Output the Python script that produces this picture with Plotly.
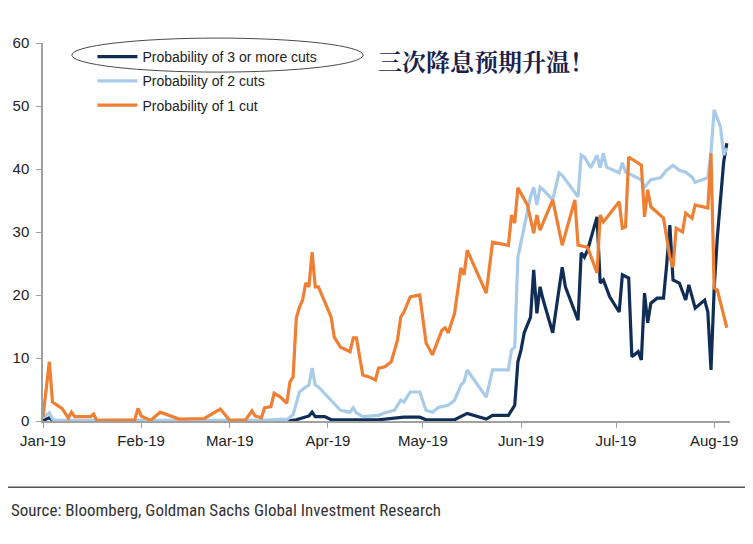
import plotly.graph_objects as go

# ---------------- data ----------------
three_dates = ["2019-01-01", "2019-01-03", "2019-01-04", "2019-03-19", "2019-03-22", "2019-03-25",
               "2019-03-26", "2019-03-27", "2019-03-28", "2019-03-31", "2019-04-02", "2019-04-17",
               "2019-04-25", "2019-04-30", "2019-05-02", "2019-05-11", "2019-05-15", "2019-05-21",
               "2019-05-23", "2019-05-28", "2019-05-29", "2019-05-30", "2019-05-31", "2019-06-01",
               "2019-06-02", "2019-06-04", "2019-06-05", "2019-06-06", "2019-06-07", "2019-06-08",
               "2019-06-11", "2019-06-14", "2019-06-15", "2019-06-19", "2019-06-20", "2019-06-21",
               "2019-06-22", "2019-06-25", "2019-06-26", "2019-06-27", "2019-06-29", "2019-07-02",
               "2019-07-03", "2019-07-05", "2019-07-06", "2019-07-08", "2019-07-09", "2019-07-10",
               "2019-07-11", "2019-07-12", "2019-07-14", "2019-07-16", "2019-07-17", "2019-07-18",
               "2019-07-19", "2019-07-21", "2019-07-23", "2019-07-24", "2019-07-26", "2019-07-29",
               "2019-07-30", "2019-07-31", "2019-08-01", "2019-08-02", "2019-08-04", "2019-08-05"]
three_vals = [0.1, 0.5, 0.1, 0.0, 0.2, 0.7,
              0.8, 1.4, 0.7, 0.7, 0.2, 0.2,
              0.6, 0.6, 0.2, 0.2, 1.2, 0.3,
              0.9, 0.9, 1.7, 2.5, 9.4, 11.3,
              14.0, 16.5, 24.0, 17.1, 21.3, 19.2,
              14.0, 24.4, 21.3, 16.0, 26.7, 26.0,
              27.1, 32.4, 21.9, 22.4, 19.7, 17.3,
              23.2, 22.7, 10.2, 11.0, 9.7, 20.3,
              15.6, 18.7, 19.5, 19.5, 24.8, 31.1,
              22.4, 21.9, 19.2, 21.6, 17.9, 19.2,
              17.3, 8.1, 21.0, 29.2, 41.1, 44.1]

two_dates = ["2019-01-01", "2019-01-03", "2019-01-04", "2019-01-05", "2019-03-11", "2019-03-18",
             "2019-03-19", "2019-03-21", "2019-03-22", "2019-03-23", "2019-03-25", "2019-03-26",
             "2019-03-27", "2019-03-28", "2019-03-29", "2019-04-01", "2019-04-03", "2019-04-05",
             "2019-04-08", "2019-04-09", "2019-04-10", "2019-04-12", "2019-04-17", "2019-04-19",
             "2019-04-22", "2019-04-24", "2019-04-25", "2019-04-27", "2019-04-30", "2019-05-02",
             "2019-05-04", "2019-05-06", "2019-05-09", "2019-05-11", "2019-05-13", "2019-05-14",
             "2019-05-15", "2019-05-21", "2019-05-23", "2019-05-28", "2019-05-29", "2019-05-30",
             "2019-05-31", "2019-06-01", "2019-06-02", "2019-06-04", "2019-06-05", "2019-06-06",
             "2019-06-07", "2019-06-08", "2019-06-11", "2019-06-13", "2019-06-14", "2019-06-19",
             "2019-06-20", "2019-06-21", "2019-06-23", "2019-06-25", "2019-06-26", "2019-06-27",
             "2019-06-28", "2019-07-02", "2019-07-03", "2019-07-04", "2019-07-09", "2019-07-10",
             "2019-07-12", "2019-07-15", "2019-07-17", "2019-07-19", "2019-07-21", "2019-07-23",
             "2019-07-25", "2019-07-26", "2019-07-30", "2019-07-31", "2019-08-01", "2019-08-03",
             "2019-08-04", "2019-08-05"]
two_vals = [0.5, 1.3, 0.3, 0.1, 0.1, 0.3,
            0.2, 1.0, 2.8, 4.6, 5.4, 5.7,
            8.4, 5.7, 5.4, 3.8, 2.8, 1.7,
            1.4, 2.1, 1.3, 0.7, 0.9, 1.3,
            1.7, 3.3, 3.0, 4.6, 4.6, 1.7,
            1.4, 2.2, 2.5, 3.3, 5.7, 6.2,
            8.1, 3.8, 8.1, 8.1, 11.3, 11.7,
            26.0, 28.4, 30.3, 35.6, 37.1, 34.3,
            37.1, 36.7, 35.1, 39.4, 39.0, 35.6,
            42.2, 41.9, 40.2, 42.2, 40.2, 42.5,
            40.3, 39.4, 41.0, 39.5, 38.3, 37.1,
            38.3, 38.6, 39.8, 40.6, 39.8, 39.5,
            38.7, 37.9, 38.6, 42.7, 49.4, 46.7,
            42.2, 43.3]

one_dates = ["2019-01-01", "2019-01-03", "2019-01-04", "2019-01-07", "2019-01-09", "2019-01-10",
             "2019-01-11", "2019-01-16", "2019-01-17", "2019-01-18", "2019-01-30", "2019-01-31",
             "2019-02-01", "2019-02-04", "2019-02-07", "2019-02-10", "2019-02-13", "2019-02-21",
             "2019-02-26", "2019-03-01", "2019-03-06", "2019-03-08", "2019-03-09", "2019-03-11",
             "2019-03-12", "2019-03-14", "2019-03-15", "2019-03-17", "2019-03-19", "2019-03-20",
             "2019-03-21", "2019-03-22", "2019-03-23", "2019-03-24", "2019-03-25", "2019-03-26",
             "2019-03-27", "2019-03-28", "2019-03-29", "2019-03-31", "2019-04-02", "2019-04-03",
             "2019-04-05", "2019-04-08", "2019-04-09", "2019-04-10", "2019-04-12", "2019-04-14",
             "2019-04-16", "2019-04-17", "2019-04-19", "2019-04-21", "2019-04-23", "2019-04-24",
             "2019-04-25", "2019-04-27", "2019-04-30", "2019-05-02", "2019-05-04", "2019-05-07",
             "2019-05-08", "2019-05-09", "2019-05-11", "2019-05-13", "2019-05-14", "2019-05-15",
             "2019-05-21", "2019-05-23", "2019-05-28", "2019-05-29", "2019-05-30", "2019-05-31",
             "2019-06-03", "2019-06-05", "2019-06-06", "2019-06-07", "2019-06-11", "2019-06-14",
             "2019-06-18", "2019-06-19", "2019-06-22", "2019-06-25", "2019-06-26", "2019-06-27",
             "2019-07-02", "2019-07-03", "2019-07-04", "2019-07-05", "2019-07-09", "2019-07-10",
             "2019-07-11", "2019-07-12", "2019-07-16", "2019-07-18", "2019-07-19", "2019-07-20",
             "2019-07-22", "2019-07-23", "2019-07-25", "2019-07-26", "2019-07-30", "2019-07-31",
             "2019-08-01", "2019-08-02", "2019-08-05"]
one_vals = [0.6, 9.4, 3.0, 2.0, 0.5, 1.4,
            0.7, 0.7, 1.1, 0.1, 0.2, 2.0,
            0.8, 0.1, 1.4, 0.8, 0.3, 0.4,
            1.9, 0.1, 0.2, 1.6, 0.8, 0.5,
            2.1, 2.3, 4.4, 3.8, 2.8, 6.2,
            7.0, 16.3, 18.1, 19.2, 21.9, 21.3,
            26.8, 21.3, 21.3, 18.9, 16.5, 13.3,
            11.7, 11.0, 13.2, 13.2, 7.3, 7.0,
            6.5, 8.4, 8.6, 9.4, 12.9, 16.5,
            17.3, 19.7, 20.0, 12.4, 10.5, 14.4,
            14.8, 14.0, 17.1, 24.3, 23.2, 27.1,
            20.3, 28.4, 27.9, 32.7, 31.4, 37.0,
            34.3, 29.8, 32.7, 30.3, 35.1, 27.9,
            35.1, 27.9, 27.6, 23.5, 32.7, 31.6,
            34.8, 30.6, 30.8, 41.9, 40.6, 32.4,
            36.7, 34.0, 32.2, 26.0, 24.4, 30.6,
            30.0, 33.0, 32.2, 34.3, 33.8, 42.5,
            21.1, 20.8, 14.8]

series_names = ["Probability of 3 or more cuts", "Probability of 2 cuts", "Probability of 1 cut"]
series_colors = ["#0f2d55", "#a9cbea", "#ee7f33"]

tick_dates = ["2019-01-01", "2019-02-01", "2019-03-01", "2019-04-01",
              "2019-05-01", "2019-06-01", "2019-07-01", "2019-08-01"]
tick_labels = ["Jan-19", "Feb-19", "Mar-19", "Apr-19", "May-19", "Jun-19", "Jul-19", "Aug-19"]
y_ticks = [0, 10, 20, 30, 40, 50, 60]

title_cn = "三次降息预期升温！"
source_text = "Source: Bloomberg, Goldman Sachs Global Investment Research"

# ---------------- figure ----------------
fig = go.Figure()
all_series = [(three_dates, three_vals), (two_dates, two_vals), (one_dates, one_vals)]
for i, ((d, v), name, col) in enumerate(zip(all_series, series_names, series_colors)):
    fig.add_trace(go.Scatter(x=d, y=v, mode="lines", name=name, legendgroup=f"g{i}",
                             line=dict(color=col, width=3.2)))

axis_font = dict(family="Liberation Sans, Arial, sans-serif", size=15, color="#222222")

fig.update_layout(
    width=745, height=536,
    margin=dict(l=35, r=23, t=35, b=123),
    paper_bgcolor="white", plot_bgcolor="white",
    showlegend=True,
    legend=dict(x=0.072, y=1.005, xanchor="left", yanchor="top",
                bgcolor="rgba(0,0,0,0)", tracegroupgap=3, itemwidth=40,
                font=dict(family="Liberation Sans, Arial, sans-serif", size=14, color="#222222")),
    xaxis=dict(type="date", range=["2019-01-01", "2019-08-06"],
               tickvals=tick_dates, ticktext=tick_labels,
               showgrid=False, zeroline=False, automargin=False,
               showline=True, linecolor="#a0a0a0", linewidth=1.5,
               ticks="outside", ticklen=5, tickcolor="#a0a0a0", tickwidth=1,
               tickfont=axis_font),
    yaxis=dict(range=[0, 60], tickvals=y_ticks, showgrid=False, zeroline=False,
               automargin=False,
               showline=True, linecolor="#a0a0a0", linewidth=1.5,
               ticks="outside", ticklen=5, tickcolor="#a0a0a0", tickwidth=1,
               ticklabelstandoff=4, tickfont=axis_font),
)

# ellipse around the first legend entry
fig.add_shape(type="circle", xref="paper", yref="paper",
              x0=0.042, x1=0.466, y0=0.923, y1=1.013,
              line=dict(color="#4a4a4a", width=1))

# separator line above the source
fig.add_shape(type="line", xref="paper", yref="paper",
              x0=-0.06, x1=1.04, y0=-0.175, y1=-0.175,
              line=dict(color="#555555", width=1.5))

fig.add_annotation(text="<b>" + title_cn + "</b>", xref="paper", yref="paper", x=0.484, y=0.955,
                   xanchor="left", yanchor="middle", showarrow=False,
                   font=dict(family="Noto Serif CJK SC, Noto Sans CJK SC", size=24, color="#1b1f4d"))

fig.add_annotation(text=source_text, xref="paper", yref="paper", x=-0.05, y=-0.235,
                   xanchor="left", yanchor="middle", showarrow=False,
                   font=dict(family="Liberation Sans Narrow, Roboto Condensed, Roboto, sans-serif",
                             size=17, color="#333333"))

fig.write_html("out.html")
